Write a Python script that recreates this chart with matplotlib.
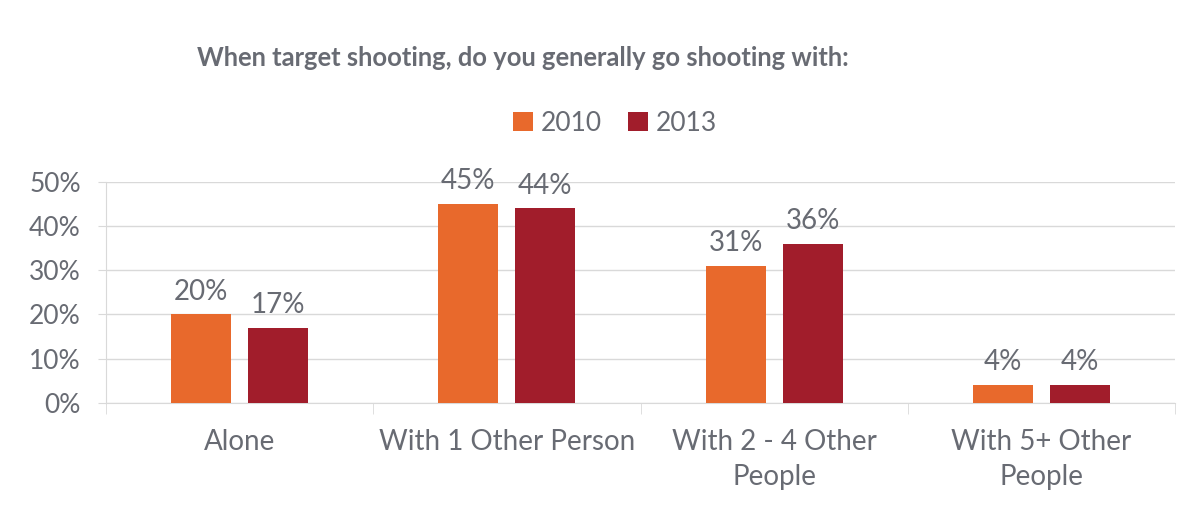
import matplotlib.pyplot as plt
import numpy as np

categories = ['Alone', 'With 1 Other Person', 'With 2 - 4 Other\nPeople', 'With 5+ Other\nPeople']
series_names = ['2010', '2013']
values_2010 = [20, 45, 31, 4]
values_2013 = [17, 44, 36, 4]
yticks = [0, 10, 20, 30, 40, 50]

col_2010 = '#E8692C'
col_2013 = '#A11D2B'
txt = '#686B73'
grid_col = '#D9D9D9'

plt.rcParams['font.family'] = ['Lato', 'DejaVu Sans']

fig = plt.figure(figsize=(12.04, 5.08), dpi=100)
ax = fig.add_axes([0.088, 0.207, 0.888, 0.435])

x = np.arange(len(categories))
w = 0.225
off = 0.144
b1 = ax.bar(x - off, values_2010, w, color=col_2010, label=series_names[0], zorder=3)
b2 = ax.bar(x + off, values_2013, w, color=col_2013, label=series_names[1], zorder=3)

# value labels above the bars
for bars, vals in [(b1, values_2010), (b2, values_2013)]:
    for r, v in zip(bars, vals):
        ax.annotate(f'{v}%', (r.get_x() + r.get_width() / 2, r.get_height()),
                    xytext=(0, 7), textcoords='offset points',
                    ha='center', va='bottom', fontsize=20, color=txt)

ax.set_xlim(-0.5, len(categories) - 0.5)
ax.set_ylim(0, 50)
ax.set_yticks(yticks)
ax.set_yticklabels([f'{t}%' for t in yticks])
ax.yaxis.grid(True, color=grid_col, linewidth=1, zorder=0)
ax.tick_params(axis='y', length=6, color=grid_col, labelsize=19, labelcolor=txt, pad=12)

ax.set_xticks(x)
ax.set_xticklabels(categories, fontsize=20, color=txt, linespacing=1.4)
ax.set_xticks(np.arange(-0.5, len(categories)), minor=True)
ax.tick_params(axis='x', which='major', length=0, pad=19)
ax.tick_params(axis='x', which='minor', length=8, color=grid_col)

for s in ['top', 'right']:
    ax.spines[s].set_visible(False)
for s in ['left', 'bottom']:
    ax.spines[s].set_color(grid_col)

fig.text(197 / 1204, 0.885, 'When target shooting, do you generally go shooting with:',
         ha='left', va='center', fontsize=18.4, fontweight='bold', color=txt)
fig.legend(loc='center', bbox_to_anchor=(615 / 1204, 0.757), ncol=2, frameon=False,
           fontsize=19, labelcolor=txt, handlelength=0.75, handleheight=0.75,
           handletextpad=0.3, columnspacing=1.0)

fig.savefig('out.png', dpi=100)
